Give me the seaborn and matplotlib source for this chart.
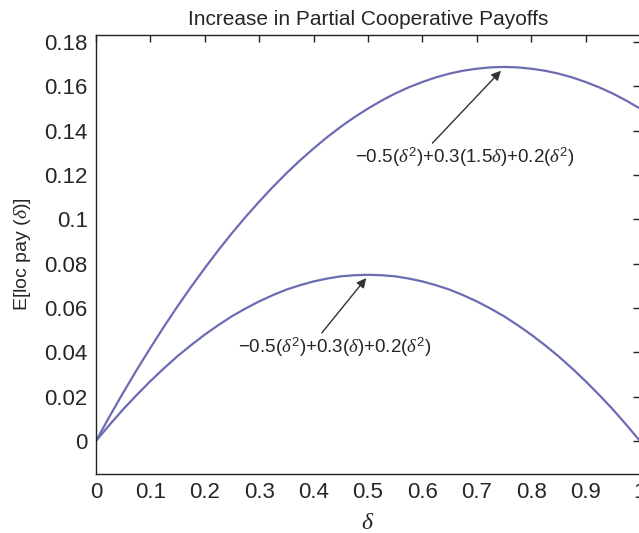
import matplotlib
matplotlib.use('Agg')
import matplotlib.pyplot as plt
import seaborn as sns
import pandas as pd

# values (delta steps of 0.025)
delta = [0.000, 0.025, 0.050, 0.075, 0.100, 0.125, 0.150, 0.175, 0.200, 0.225,
         0.250, 0.275, 0.300, 0.325, 0.350, 0.375, 0.400, 0.425, 0.450, 0.475,
         0.500, 0.525, 0.550, 0.575, 0.600, 0.625, 0.650, 0.675, 0.700, 0.725,
         0.750, 0.775, 0.800, 0.825, 0.850, 0.875, 0.900, 0.925, 0.950, 0.975, 1.000]
payoff_partial = [0.0000, 0.0073, 0.0143, 0.0208, 0.0270, 0.0328, 0.0383, 0.0433, 0.0480, 0.0523,
                  0.0563, 0.0598, 0.0630, 0.0658, 0.0683, 0.0703, 0.0720, 0.0733, 0.0743, 0.0748,
                  0.0750, 0.0748, 0.0743, 0.0733, 0.0720, 0.0703, 0.0683, 0.0658, 0.0630, 0.0598,
                  0.0563, 0.0523, 0.0480, 0.0433, 0.0383, 0.0328, 0.0270, 0.0208, 0.0143, 0.0073, 0.0000]
payoff_increased = [0.0000, 0.0111, 0.0218, 0.0321, 0.0420, 0.0516, 0.0608, 0.0696, 0.0780, 0.0861,
                    0.0938, 0.1011, 0.1080, 0.1146, 0.1208, 0.1266, 0.1320, 0.1371, 0.1418, 0.1461,
                    0.1500, 0.1536, 0.1568, 0.1596, 0.1620, 0.1641, 0.1658, 0.1671, 0.1680, 0.1686,
                    0.1688, 0.1686, 0.1680, 0.1671, 0.1658, 0.1641, 0.1620, 0.1596, 0.1568, 0.1536, 0.1500]
xticks = [0, 0.1, 0.2, 0.3, 0.4, 0.5, 0.6, 0.7, 0.8, 0.9, 1]
yticks = [0, 0.02, 0.04, 0.06, 0.08, 0.1, 0.12, 0.14, 0.16, 0.18]
xtick_labels = ['0', '0.1', '0.2', '0.3', '0.4', '0.5', '0.6', '0.7', '0.8', '0.9', '1']
ytick_labels = ['0', '0.02', '0.04', '0.06', '0.08', '0.1', '0.12', '0.14', '0.16', '0.18']

label_increased = '\u22120.5($\\delta^2$)+0.3(1.5$\\delta$)+0.2($\\delta^2$)'
label_partial = '\u22120.5($\\delta^2$)+0.3($\\delta$)+0.2($\\delta^2$)'

sns.set_theme(style='white')
plt.rcParams['font.family'] = ['Liberation Sans', 'DejaVu Sans']
plt.rcParams['mathtext.fontset'] = 'custom'
plt.rcParams['mathtext.rm'] = 'Liberation Sans'
plt.rcParams['mathtext.it'] = 'Liberation Serif:italic'
plt.rcParams['mathtext.bf'] = 'Liberation Sans:bold'

df = pd.DataFrame({'delta': delta * 2,
                   'payoff': payoff_partial + payoff_increased,
                   'series': ['partial'] * len(delta) + ['increased'] * len(delta)})

fig = plt.figure(figsize=(6.39, 5.33), dpi=100)
ax = fig.add_axes([0.1502, 0.1107, 0.8513, 0.8236])

line_color = '#6c6cb4'
sns.lineplot(data=df, x='delta', y='payoff', units='series', estimator=None,
             color=line_color, linewidth=1.6, ax=ax, legend=False)

ax.set_xlim(0, 1)
ax.set_ylim(-0.0149, 0.1832)
ax.set_xticks(xticks)
ax.set_xticklabels(xtick_labels)
ax.set_yticks(yticks)
ax.set_yticklabels(ytick_labels)
ax.tick_params(direction='in', length=5, width=1, color='#222222',
               top=True, right=True, labelsize=16, pad=6)

for side in ['left', 'bottom', 'top', 'right']:
    ax.spines[side].set_color('#222222')
    ax.spines[side].set_linewidth(1.0)

ax.set_xlabel('$\\delta$', fontsize=17, labelpad=6)
ax.set_ylabel('E[loc pay ($\\delta$)]', fontsize=14, labelpad=8)
ax.set_title('Increase in Partial Cooperative Payoffs', fontsize=15, pad=7)

arrow = dict(arrowstyle='-|>', color='#333333', lw=1.0, mutation_scale=14)
ax.annotate('', xy=(0.748, 0.168), xytext=(0.615, 0.1335), arrowprops=arrow)
ax.text(0.678, 0.128, label_increased, fontsize=13.5, ha='center', va='center')
ax.annotate('', xy=(0.50, 0.0745), xytext=(0.412, 0.0478), arrowprops=arrow)
ax.text(0.439, 0.0424, label_partial, fontsize=13.5, ha='center', va='center')

fig.savefig('out.png', dpi=100)
